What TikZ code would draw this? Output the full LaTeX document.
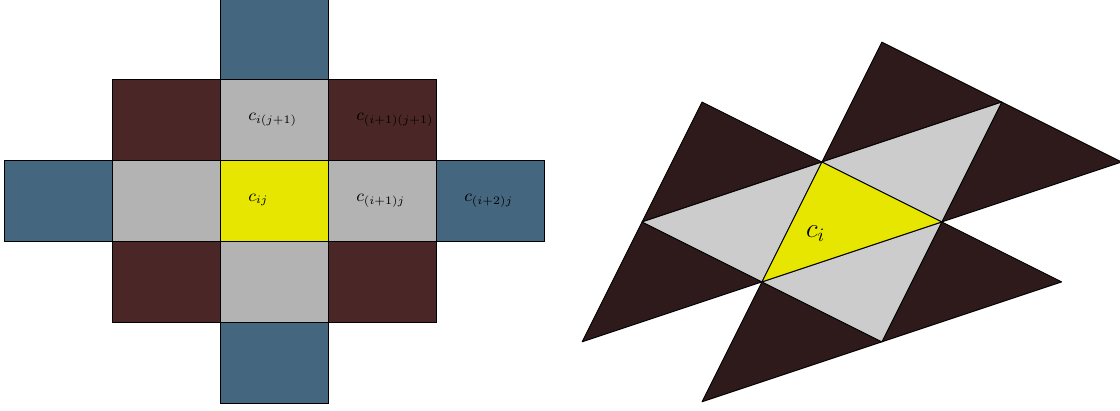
\documentclass[tikz,border=0pt]{standalone}
\usetikzlibrary{positioning}
\definecolor{cellblue}{HTML}{44677F}
\definecolor{cellmaroon}{HTML}{4B2626}
\definecolor{cellgrey}{HTML}{B3B3B3}
\definecolor{cellyellow}{HTML}{E6E600}
\definecolor{tridark}{HTML}{2F1A1B}
\definecolor{trigrey}{HTML}{CCCCCC}
\tikzset{
  bluecell/.style={draw=black,fill=cellblue,line width=0.5pt},
  maroncell/.style={draw=black,fill=cellmaroon,line width=0.5pt},
  greycell/.style={draw=black,fill=cellgrey,line width=0.5pt},
  yellowcell/.style={draw=black,fill=cellyellow,line width=0.5pt},
  darktri/.style={draw=black,fill=tridark,line width=0.5pt,line join=round},
  greytri/.style={draw=black,fill=trigrey,line width=0.5pt,line join=round},
  yellowtri/.style={draw=black,fill=cellyellow,line width=0.5pt,line join=round},
  lbl/.style={inner sep=0pt,anchor=base west,text=black,font=\small},
}

\begin{document}
\begin{tikzpicture}
  \useasboundingbox (-0.09,-0.13) rectangle (20.65,7.48);

  % square stencil: 2cm x 1.5cm cells
  \foreach \c/\r in {2/0,0/2,4/2,2/4}
    \draw[bluecell] (2*\c,1.5*\r) rectangle ++(2,1.5);
  \foreach \c/\r in {1/1,3/1,1/3,3/3}
    \draw[maroncell] (2*\c,1.5*\r) rectangle ++(2,1.5);
  \foreach \c/\r in {2/1,1/2,3/2,2/3}
    \draw[greycell] (2*\c,1.5*\r) rectangle ++(2,1.5);
  \draw[yellowcell] (4,3) rectangle ++(2,1.5);

  \node[lbl] (cij)   at (4.5,3.75) {$c_{ij}$};
  \node[lbl] (cijp)  at (4.5,5.25) {$c_{i(j+1)}$};
  \node[lbl] (cipj)  at (6.5,3.75) {$c_{(i+1)j}$};
  \node[lbl] (cipjp) at (6.5,5.25) {$c_{(i+1)(j+1)}$};
  \node[lbl] (cippj) at (8.5,3.75) {$c_{(i+2)j}$};

  % triangle stencil on a skewed lattice
  \begin{scope}[shift={(14.02,2.26)},x={(2.22cm,-1.11cm)},y={(1.11cm,2.22cm)}]
    \draw[darktri] (-1,0) -- (0,1) -- (-1,1) -- cycle;
    \draw[darktri] (-1,0) -- (0,0) -- (-1,-1) -- cycle;
    \draw[darktri] (0,1) -- (1,2) -- (0,2) -- cycle;
    \draw[darktri] (1,1) -- (1,2) -- (2,2) -- cycle;
    \draw[darktri] (0,0) -- (1,0) -- (0,-1) -- cycle;
    \draw[darktri] (1,1) -- (1,0) -- (2,1) -- cycle;
    \draw[greytri] (0,0) -- (0,1) -- (-1,0) -- cycle;
    \draw[greytri] (0,1) -- (1,1) -- (1,2) -- cycle;
    \draw[greytri] (0,0) -- (1,1) -- (1,0) -- cycle;
    \draw[yellowtri] (0,0) -- (0,1) -- (1,1) -- cycle;
  \end{scope}
  \node[lbl,font=\Large] (ci) at (14.83,3.09) {$c_i$};
\end{tikzpicture}
\end{document}
